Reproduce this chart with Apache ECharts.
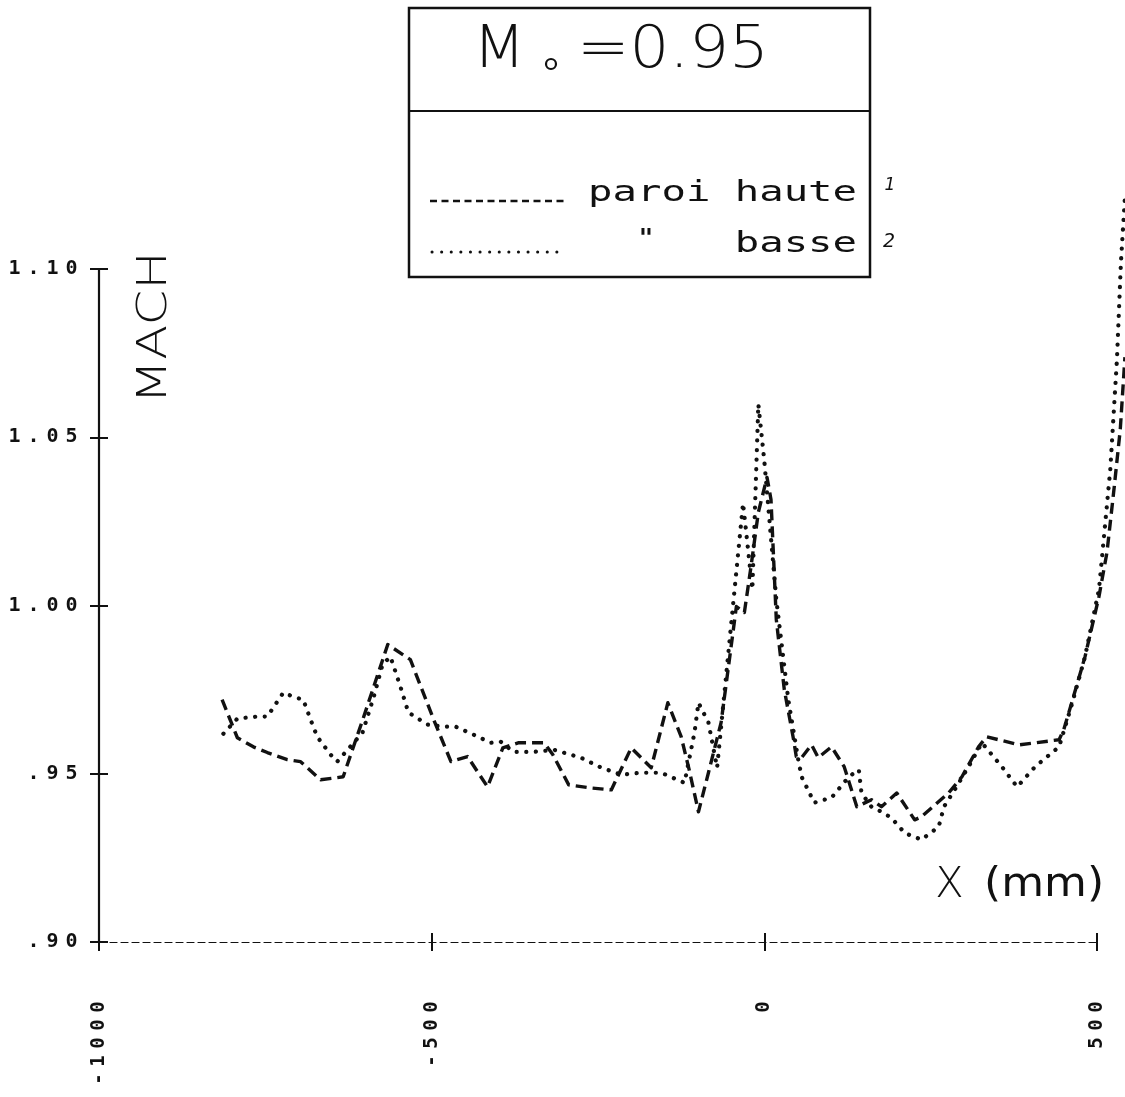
<!DOCTYPE html>
<html>
<head>
<meta charset="utf-8">
<script src="https://cdn.jsdelivr.net/npm/echarts@6/dist/echarts.min.js"></script>
<style>
  html, body { margin: 0; padding: 0; background: #ffffff; }
  #chart { width: 1125px; height: 1097px; }
</style>
</head>
<body>
<div id="chart"></div>
<script>
// Wall Mach number distribution, M0 = 0.95
// Upper wall (paroi haute): position along the wall in mm, Mach number
const mmHaute = [-815, -792, -768, -747, -717, -697, -667, -633, -602, -566, -532, -497, -471, -446,
  -416, -393, -370, -331, -318, -294, -261, -230, -200, -170, -145, -125, -113, -99, -84, -65, -42,
  -30, -20, -9, 4, 10, 18, 30, 44, 48, 56, 71, 81, 101, 120, 139, 161, 176, 199, 226, 236, 277, 297,
  322, 334, 383, 443, 450, 462, 482, 503, 515, 526, 535, 542];
const machHaute = [0.972, 0.9607, 0.958, 0.9563, 0.9542, 0.9536, 0.9482, 0.9491, 0.967, 0.9884,
  0.9839, 0.9661, 0.9536, 0.9551, 0.9461, 0.9577, 0.9592, 0.9592, 0.9557, 0.9467, 0.9458, 0.9452,
  0.9577, 0.9518, 0.9711, 0.961, 0.9512, 0.9387, 0.9503, 0.9652, 0.9997, 0.9979, 1.0116, 1.0277,
  1.0381, 1.0315, 0.9958, 0.975, 0.9601, 0.9551, 0.9548, 0.9586, 0.9548, 0.958, 0.9521, 0.9402,
  0.9423, 0.9402, 0.9443, 0.9363, 0.9372, 0.9443, 0.9491, 0.958, 0.961, 0.9586, 0.9601, 0.9631,
  0.9711, 0.9848, 1.0027, 1.0158, 1.0354, 1.0524, 1.0738];

// Lower wall (paroi basse)
const mmBasse = [-813, -792, -762, -747, -723, -708, -693, -682, -672, -652, -642, -604, -587, -574,
  -562, -547, -535, -506, -482, -464, -437, -411, -396, -377, -346, -316, -276, -245, -215, -185,
  -155, -120, -105, -99, -84, -71, -32, -18, -9, 0, 18, 36, 51, 56, 75, 101, 127, 142, 146, 161,
  176, 191, 211, 236, 262, 270, 286, 307, 327, 357, 380, 407, 443, 462, 482, 503, 520, 530, 536, 542];
const machBasse = [0.9619, 0.9664, 0.967, 0.967, 0.9741, 0.9729, 0.972, 0.9661, 0.961, 0.9557,
  0.9536, 0.9622, 0.9729, 0.9824, 0.9848, 0.9759, 0.9682, 0.9646, 0.964, 0.964, 0.9616, 0.9592,
  0.9595, 0.9565, 0.9565, 0.9571, 0.9548, 0.9518, 0.9497, 0.9503, 0.9503, 0.9473, 0.9622, 0.9711,
  0.9652, 0.9518, 1.0304, 1.0048, 1.0598, 1.0429, 1.0018, 0.972, 0.9542, 0.9491, 0.9414, 0.9429,
  0.9491, 0.9512, 0.9443, 0.9402, 0.9387, 0.9369, 0.9324, 0.9304, 0.9342, 0.9402, 0.9452, 0.9521,
  0.9592, 0.9521, 0.9461, 0.9521, 0.958, 0.9705, 0.9848, 1.0048, 1.0405, 1.0732, 1.1021, 1.1214];

const xTickLabels = ['-1000', '-500', '0', '500'];
const yTickLabels = ['.90', '.95', '1.00', '1.05', '1.10'];

const seriesNames = ['paroi haute', 'paroi basse'];

const INK = '#111111';
const MONO = '"DejaVu Sans Mono", "Liberation Mono", monospace';
const SANS = '"DejaVu Sans", "Noto Sans", sans-serif';
const TICK = 9;

// Plotter-style lettering: every character sits in its own fixed-width cell
function spaced(s) {
  return s.split('').map(function (ch) { return '{c|' + ch + '}'; }).join('');
}

function toCoords(xs, ys) {
  return xs.map(function (x, i) { return [x, ys[i]]; });
}

const chart = echarts.init(document.getElementById('chart'), null, { renderer: 'canvas' });

const xCommon = { type: 'value', min: -1000, max: 500, interval: 500, position: 'bottom', splitLine: { show: false } };
const yCommon = { type: 'value', min: 0.9, max: 1.1, interval: 0.05, position: 'left', splitLine: { show: false } };

// Each axis has a label-less twin with the same scale, pushed into the plot so the ticks cross the
// axis line; the lower-wall curve is plotted on the twins.
const option = {
  backgroundColor: '#ffffff',
  animation: false,
  grid: { left: 99, top: 269, width: 998, height: 673, outerBoundsMode: 'none', containLabel: false },
  xAxis: [
    Object.assign({}, xCommon, {
      axisLine: { show: true, onZero: false, lineStyle: { color: INK, width: 1.2, type: [7, 4] } },
      axisTick: { show: true, inside: false, length: TICK, lineStyle: { color: INK, width: 2 } },
      axisLabel: {
        show: true, rotate: 90, margin: 56,
        formatter: function (v) { return spaced(xTickLabels[Math.round((v + 1000) / 500)]); },
        rich: { c: { width: 18, align: 'center', fontFamily: MONO, fontWeight: 'bold', fontSize: 19, color: INK } }
      }
    }),
    Object.assign({}, xCommon, {
      offset: -TICK,
      axisLine: { show: true, onZero: false, lineStyle: { color: 'rgba(0,0,0,0)', width: 0 } },
      axisTick: { show: true, inside: false, length: TICK, lineStyle: { color: INK, width: 2 } },
      axisLabel: { show: false }
    })
  ],
  yAxis: [
    Object.assign({}, yCommon, {
      axisLine: { show: true, onZero: false, lineStyle: { color: INK, width: 2.2 } },
      axisTick: { show: true, inside: false, length: TICK, lineStyle: { color: INK, width: 2 } },
      axisLabel: {
        show: true, margin: 18,
        formatter: function (v) { return spaced(yTickLabels[Math.round((v - 0.9) / 0.05)]); },
        rich: { c: { width: 19, align: 'center', fontFamily: MONO, fontWeight: 'bold', fontSize: 20, color: INK } }
      }
    }),
    Object.assign({}, yCommon, {
      offset: -TICK,
      axisLine: { show: true, onZero: false, lineStyle: { color: 'rgba(0,0,0,0)', width: 0 } },
      axisTick: { show: true, inside: false, length: TICK, lineStyle: { color: INK, width: 2 } },
      axisLabel: { show: false }
    })
  ],
  series: [
    {
      // polylines are not clipped to the plotting area, the traverse runs past 500 mm
      name: seriesNames[0], type: 'lines', coordinateSystem: 'cartesian2d',
      xAxisIndex: 0, yAxisIndex: 0, polyline: true, clip: false, silent: true,
      data: [{ name: seriesNames[0], coords: toCoords(mmHaute, machHaute) }],
      lineStyle: { color: INK, width: 3.4, type: [11, 6], cap: 'butt', join: 'round', opacity: 1 }
    },
    {
      name: seriesNames[1], type: 'lines', coordinateSystem: 'cartesian2d',
      xAxisIndex: 1, yAxisIndex: 1, polyline: true, clip: false, silent: true,
      data: [{ name: seriesNames[1], coords: toCoords(mmBasse, machBasse) }],
      lineStyle: { color: INK, width: 4.2, type: [0.1, 9.5], cap: 'round', opacity: 1 }
    }
  ],
  graphic: [
    // caption box
    { type: 'rect', shape: { x: 409, y: 8, width: 461, height: 269 }, style: { fill: 'none', stroke: INK, lineWidth: 2.5 } },
    { type: 'line', shape: { x1: 409, y1: 111, x2: 870, y2: 111 }, style: { stroke: INK, lineWidth: 2 } },
    { type: 'text', x: 473, y: 52, scaleX: 1.05, style: { text: 'M', fontFamily: SANS, fontWeight: 200, fontSize: 58, fill: INK, textVerticalAlign: 'middle' } },
    { type: 'circle', shape: { cx: 551, cy: 64, r: 5 }, style: { fill: 'none', stroke: INK, lineWidth: 2.2 } },
    { type: 'text', x: 577, y: 52, scaleX: 1.08, style: { text: '=0.95', fontFamily: SANS, fontWeight: 200, fontSize: 58, fill: INK, textVerticalAlign: 'middle' } },
    // legend samples
    { type: 'line', shape: { x1: 430, y1: 201, x2: 568, y2: 201 }, style: { stroke: INK, lineWidth: 2.5, lineDash: [7, 4.5] } },
    { type: 'line', shape: { x1: 432, y1: 252, x2: 560, y2: 252 }, style: { stroke: INK, lineWidth: 3, lineDash: [0.1, 9.5], lineCap: 'round' } },
    { type: 'text', x: 857, y: 194, scaleX: 1.45, style: { text: 'paroi haute', fontFamily: MONO, fontSize: 28, fill: INK, textAlign: 'right', textVerticalAlign: 'middle' } },
    { type: 'text', x: 646, y: 240, style: { text: '"', fontFamily: MONO, fontWeight: 'bold', fontSize: 24, fill: INK, textAlign: 'center', textVerticalAlign: 'middle' } },
    { type: 'text', x: 857, y: 245, scaleX: 1.45, style: { text: 'basse', fontFamily: MONO, fontSize: 28, fill: INK, textAlign: 'right', textVerticalAlign: 'middle' } },
    // curve numbers written beside the caption
    { type: 'text', x: 890, y: 186, style: { text: '1', fontFamily: SANS, fontStyle: 'italic', fontSize: 17, fill: INK, textAlign: 'center', textVerticalAlign: 'middle' } },
    { type: 'text', x: 889, y: 242, style: { text: '2', fontFamily: SANS, fontStyle: 'italic', fontSize: 19, fill: INK, textAlign: 'center', textVerticalAlign: 'middle' } },
    // axis titles
    { type: 'text', x: 155, y: 404, rotation: Math.PI / 2, scaleX: 1.25, style: { text: 'MACH', fontFamily: SANS, fontWeight: 200, fontSize: 41, fill: INK, textAlign: 'left', textVerticalAlign: 'middle' } },
    { type: 'text', x: 935, y: 886, style: { text: 'X', fontFamily: SANS, fontWeight: 200, fontSize: 42, fill: INK, textAlign: 'left', textVerticalAlign: 'middle' } },
    { type: 'text', x: 984, y: 886, scaleX: 1.1, style: { text: '(mm)', fontFamily: SANS, fontSize: 40, fill: INK, textAlign: 'left', textVerticalAlign: 'middle' } }
  ]
};

chart.setOption(option);
</script>
</body>
</html>
